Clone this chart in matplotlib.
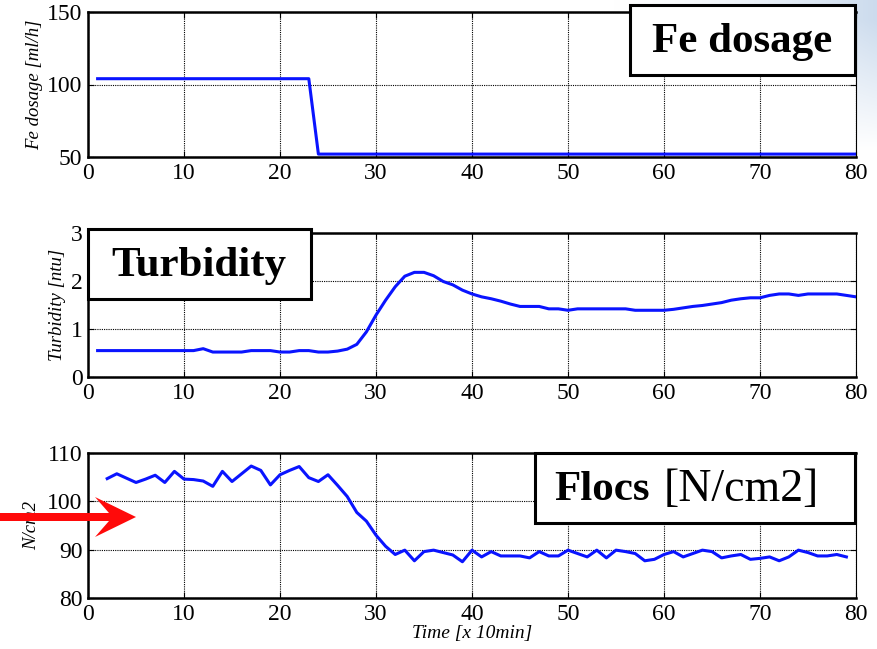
import matplotlib
matplotlib.use("Agg")
import matplotlib.pyplot as plt
import matplotlib.patches as mpatches
import numpy as np

plt.rcParams['font.family'] = ['Liberation Serif', 'DejaVu Serif']

# --- data ---
time_fe = list(range(1, 81))
fe_dosage = [104] * 23 + [52] * 57

time_turb = list(range(1, 81))
turbidity = [0.55, 0.55, 0.55, 0.55, 0.55, 0.55, 0.55, 0.55, 0.55, 0.55,
             0.55, 0.59, 0.52, 0.52, 0.52, 0.52, 0.55, 0.55, 0.55, 0.52,
             0.52, 0.55, 0.55, 0.52, 0.52, 0.54, 0.58, 0.68, 0.94, 1.29,
             1.60, 1.88, 2.10, 2.18, 2.18, 2.11, 1.99, 1.92, 1.81, 1.73,
             1.67, 1.63, 1.58, 1.52, 1.47, 1.47, 1.47, 1.42, 1.42, 1.39,
             1.42, 1.42, 1.42, 1.42, 1.42, 1.42, 1.39, 1.39, 1.39, 1.39,
             1.41, 1.44, 1.47, 1.49, 1.52, 1.55, 1.60, 1.63, 1.65, 1.65,
             1.70, 1.73, 1.73, 1.70, 1.73, 1.73, 1.73, 1.73, 1.70, 1.67]

time_flocs = list(range(2, 80))
flocs = [104.7, 105.7, 104.8, 103.9, 104.6, 105.4, 103.9, 106.2, 104.6, 104.5,
         104.2, 103.1, 106.2, 104.1, 105.7, 107.3, 106.4, 103.4, 105.5, 106.4,
         107.2, 104.9, 104.1, 105.5, 103.3, 101.0, 97.7, 95.9, 93.0, 90.7,
         89.0, 89.9, 87.7, 89.6, 89.9, 89.4, 88.9, 87.5, 89.9, 88.5,
         89.6, 88.7, 88.7, 88.7, 88.3, 89.6, 88.7, 88.7, 89.9, 89.2,
         88.5, 89.9, 88.3, 89.9, 89.6, 89.2, 87.7, 88.0, 89.0, 89.6,
         88.5, 89.2, 89.9, 89.6, 88.3, 88.7, 89.0, 88.0, 88.2, 88.5,
         87.7, 88.5, 89.9, 89.4, 88.7, 88.7, 89.0, 88.5]

x_ticks = [0, 10, 20, 30, 40, 50, 60, 70, 80]
fe_ticks = [50, 100, 150]
turb_ticks = [0, 1, 2, 3]
flocs_ticks = [80, 90, 100, 110]

W, H = 877, 649
fig = plt.figure(figsize=(W / 100, H / 100), dpi=100)

# slide background: soft blue tint in the top right corner
bg = fig.add_axes([0, 0, 1, 1], zorder=-10)
xx = np.linspace(0, 1, W)
yy = np.linspace(0, 1, H)
X, Y = np.meshgrid(xx, yy)
t = np.clip((X - 0.70) / 0.30, 0, 1) ** 1.5 * np.clip(1.15 - Y * 5.0, 0, 1)
base = np.array([1.0, 1.0, 1.0])
tint = np.array([0.80, 0.86, 0.93])
img = base[None, None, :] * (1 - t[..., None]) + tint[None, None, :] * t[..., None]
bg.imshow(img, aspect='auto', extent=[0, 1, 1, 0])
bg.set_xlim(0, 1)
bg.set_ylim(1, 0)
bg.axis('off')

left, right = 88 / W, 856 / W


def make_axes(top_px, bot_px):
    ax = fig.add_axes([left, 1 - bot_px / H, right - left, (bot_px - top_px) / H])
    ax.set_facecolor('white')
    ax.set_xlim(0, 80)
    ax.set_xticks(x_ticks)
    ax.grid(True, color='black', linestyle=(0, (1, 1)), linewidth=0.8)
    ax.tick_params(direction='in', length=4, top=True, right=True,
                   labelsize=17, pad=4)
    for s in ax.spines.values():
        s.set_linewidth(1.8)
    ax.spines['right'].set_linewidth(0.8)
    return ax


blue = '#0a14ff'

ax1 = make_axes(12, 157)
ax1.plot(time_fe, fe_dosage, color=blue, linewidth=2.2)
ax1.set_ylim(50, 150)
ax1.set_yticks(fe_ticks)
ax1.set_ylabel('Fe dosage [ml/h]', style='italic', fontsize=13.5, labelpad=3)

ax2 = make_axes(233, 377)
ax2.plot(time_turb, turbidity, color=blue, linewidth=2.2)
ax2.set_ylim(0, 3)
ax2.set_yticks(turb_ticks)
ax2.set_ylabel('Turbidity [ntu]', style='italic', fontsize=13.5, labelpad=3)

ax3 = make_axes(453, 598)
ax3.plot(time_flocs, flocs, color=blue, linewidth=2.2)
ax3.set_ylim(80, 110)
ax3.set_yticks(flocs_ticks)
ax3.set_ylabel('N/cm2', style='italic', fontsize=13.5, labelpad=5)
ax3.set_xlabel('Time [x 10min]', style='italic', fontsize=14, labelpad=0)


def box(x0, y0, x1, y1):
    r = mpatches.Rectangle((x0 / W, 1 - y1 / H), (x1 - x0) / W, (y1 - y0) / H,
                           transform=fig.transFigure, facecolor='white',
                           edgecolor='black', linewidth=2.2, zorder=20)
    fig.patches.append(r)


box(630, 5, 855, 75)
fig.text(742 / W, 1 - 42 / H, 'Fe dosage', fontsize=31, fontweight='bold',
         ha='center', va='center', zorder=21)

box(88, 229, 311, 299)
fig.text(199 / W, 1 - 266 / H, 'Turbidity', fontsize=31, fontweight='bold',
         ha='center', va='center', zorder=21)

box(535, 453, 855, 523)
fig.text(554 / W, 1 - 490 / H, 'Flocs', fontsize=31, fontweight='bold',
         ha='left', va='center', zorder=21)
fig.text(664 / W, 1 - 490 / H, '[N/cm2]', fontsize=33,
         ha='left', va='center', zorder=21)

# red arrow pointing at the flocs panel (display pixels)
cy = H - 517
arrow = mpatches.Polygon([(0, cy + 4), (109, cy + 4), (95, cy + 20), (136, cy),
                          (95, cy - 20), (109, cy - 4), (0, cy - 4)],
                         closed=True, transform=None, facecolor='#ff0a0a',
                         edgecolor='none', zorder=30)
fig.patches.append(arrow)

fig.savefig('out.png', dpi=100)
